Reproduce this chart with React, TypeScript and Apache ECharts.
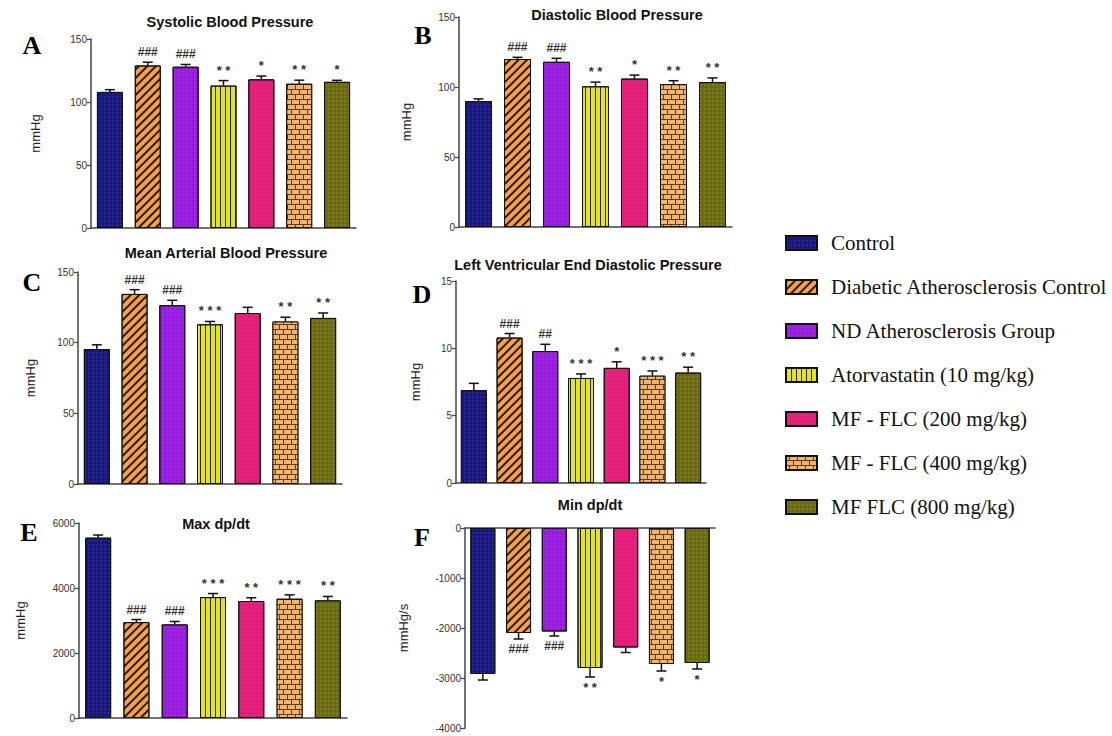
import React, { useEffect, useRef } from 'react';
import * as echarts from 'echarts';

const groups = [
  'Control',
  'Diabetic Atherosclerosis Control',
  'ND Atherosclerosis Group',
  'Atorvastatin (10 mg/kg)',
  'MF - FLC (200 mg/kg)',
  'MF - FLC (400 mg/kg)',
  'MF FLC (800 mg/kg)',
];

const sbpValues = [108, 129, 128, 113, 118, 114.5, 116];
const sbpErrors = [1.8, 2.6, 1.8, 4, 2.6, 2.8, 1.2];
const sbpMarks = ['', '###', '###', '* *', '*', '* *', '*'];

const dbpValues = [90, 120, 118, 100.5, 106, 102, 103.5];
const dbpErrors = [1.5, 1.2, 2.5, 3, 2.5, 2.5, 3];
const dbpMarks = ['', '###', '###', '* *', '*', '* *', '* *'];

const mapValues = [95.5, 134.5, 126.5, 113, 121, 115, 117.5];
const mapErrors = [3, 3, 3.5, 2, 4, 3, 3.5];
const mapMarks = ['', '###', '###', '* * *', '', '* *', '* *'];

const lvedpValues = [6.9, 10.8, 9.8, 7.8, 8.55, 7.97, 8.2];
const lvedpErrors = [0.5, 0.3, 0.5, 0.3, 0.45, 0.35, 0.4];
const lvedpMarks = ['', '###', '##', '* * *', '*', '* * *', '* *'];

const maxValues = [5550, 2950, 2880, 3720, 3600, 3670, 3620];
const maxErrors = [80, 80, 90, 110, 100, 120, 120];
const maxMarks = ['', '###', '###', '* * *', '* *', '* * *', '* *'];

const minValues = [-2920, -2100, -2070, -2800, -2390, -2720, -2700];
const minErrors = [120, 120, 90, 180, 100, 140, 120];
const minMarks = ['', '###', '###', '* *', '', '*', '*'];

const panels = [
  { letter: 'A', title: 'Systolic Blood Pressure', unit: 'mmHg', values: sbpValues, errors: sbpErrors, marks: sbpMarks, min: 0, max: 150, interval: 50 },
  { letter: 'B', title: 'Diastolic Blood Pressure', unit: 'mmHg', values: dbpValues, errors: dbpErrors, marks: dbpMarks, min: 0, max: 150, interval: 50 },
  { letter: 'C', title: 'Mean Arterial Blood Pressure', unit: 'mmHg', values: mapValues, errors: mapErrors, marks: mapMarks, min: 0, max: 150, interval: 50 },
  { letter: 'D', title: 'Left Ventricular End Diastolic Pressure', unit: 'mmHg', values: lvedpValues, errors: lvedpErrors, marks: lvedpMarks, min: 0, max: 15, interval: 5 },
  { letter: 'E', title: 'Max dp/dt', unit: 'mmHg', values: maxValues, errors: maxErrors, marks: maxMarks, min: 0, max: 6000, interval: 2000 },
  { letter: 'F', title: 'Min dp/dt', unit: 'mmHg/s', values: minValues, errors: minErrors, marks: minMarks, min: -4000, max: 0, interval: 1000 },
];

// layout (pixels)
const layouts = [
  { left: 91, top: 39, width: 265, height: 189, barWidth: 26, nameGap: 49, titleX: 230, titleY: 22, letterX: 32, letterY: 45 },
  { left: 459, top: 17, width: 273, height: 210, barWidth: 27, nameGap: 46, titleX: 617, titleY: 15, letterX: 423, letterY: 35 },
  { left: 78, top: 272, width: 264, height: 212, barWidth: 26, nameGap: 41, titleX: 226, titleY: 253, letterX: 32, letterY: 282 },
  { left: 456, top: 281, width: 250, height: 202, barWidth: 26, nameGap: 34, titleX: 588, titleY: 265, letterX: 422, letterY: 294 },
  { left: 79, top: 523, width: 268, height: 195, barWidth: 26, nameGap: 52, titleX: 216, titleY: 524, letterX: 29, letterY: 532 },
  { left: 465, top: 528, width: 250, height: 200, barWidth: 25, nameGap: 55, titleX: 590, titleY: 505, letterX: 422, letterY: 537 },
];

const sans = "'Liberation Sans', Arial, sans-serif";
const serif = "'Liberation Serif', 'Times New Roman', serif";

const dots = (c: string) => ({
  symbol: 'circle', symbolSize: 0.9, dashArrayX: [1.3, 1.2], dashArrayY: [1.3, 1.2], color: c,
});

const groupStyles = [
  { color: '#17177d', decal: dots('rgba(255,255,255,0.10)') },
  { color: '#f4a04c', decal: { symbol: 'rect', symbolSize: 1, symbolKeepAspect: false, dashArrayX: [10, 0], dashArrayY: [1.2, 3.6], rotation: -Math.PI / 4, color: '#2a1a0a' } },
  { color: '#9d22e6', decal: dots('rgba(60,0,90,0.25)') },
  { color: '#e4e41c', decal: { symbol: 'rect', symbolSize: 1, symbolKeepAspect: false, dashArrayX: [1, 3.2], dashArrayY: [10, 0], color: '#222' } },
  { color: '#e6217c', decal: dots('rgba(120,0,40,0.15)') },
  { color: '#5e3e22', decal: { symbol: 'rect', symbolSize: 1, symbolKeepAspect: false, dashArrayX: [[7, 1], [3, 1, 4, 0]], dashArrayY: [4, 1], color: '#f0b46e' } },
  { color: '#6b6912', decal: dots('rgba(230,230,120,0.22)') },
];

export default function App() {
  const ref = useRef<HTMLDivElement>(null);
  useEffect(() => {
    if (!ref.current) return;
    const chart = echarts.init(ref.current, undefined, { renderer: 'svg' });

    const grid: any[] = [];
    const xAxis: any[] = [];
    const yAxis: any[] = [];
    const series: any[] = [];
    const graphic: any[] = [];

    panels.forEach((p, i) => {
      const L = layouts[i];
      grid.push({ left: L.left, top: L.top, width: L.width, height: L.height, containLabel: false });
      xAxis.push({
        gridIndex: i, type: 'category', data: groups,
        axisLine: { show: true, onZero: true, lineStyle: { color: '#444', width: 1.5 } },
        axisTick: { show: false }, axisLabel: { show: false },
      });
      yAxis.push({
        gridIndex: i, type: 'value', min: p.min, max: p.max, interval: p.interval,
        name: p.unit, nameLocation: 'middle', nameGap: L.nameGap,
        nameTextStyle: { fontSize: 13, color: '#222', fontFamily: sans },
        axisLine: { show: true, lineStyle: { color: '#444', width: 1.5 } },
        axisTick: { show: true, length: 4, lineStyle: { color: '#444', width: 1.2 } },
        axisLabel: { fontSize: 10, color: '#333', margin: 4, fontFamily: sans, formatter: (v: number) => String(v) },
        splitLine: { show: false },
      });
      series.push({
        type: 'bar', xAxisIndex: i, yAxisIndex: i, barWidth: L.barWidth, z: 2,
        data: p.values.map((v, j) => ({
          value: v,
          itemStyle: { color: groupStyles[j].color, decal: groupStyles[j].decal, borderColor: '#111', borderWidth: 1 },
        })),
      });
      const marks = p.marks;
      series.push({
        type: 'custom', xAxisIndex: i, yAxisIndex: i, z: 5, clip: false,
        encode: { x: 0, y: 1 },
        data: p.values.map((v, j) => [j, v, p.errors[j]]),
        renderItem: (params: any, api: any) => {
          const ci = api.value(0);
          const v = api.value(1);
          const e = api.value(2);
          const dir = v < 0 ? -1 : 1;
          const p0 = api.coord([ci, v]);
          const p1 = api.coord([ci, v + dir * e]);
          const hw = 5;
          const label = marks[params.dataIndex] || '';
          const isHash = label.startsWith('#');
          return {
            type: 'group',
            children: [
              { type: 'line', shape: { x1: p0[0], y1: p0[1], x2: p1[0], y2: p1[1] }, style: { stroke: '#111', lineWidth: 1.5 } },
              { type: 'line', shape: { x1: p1[0] - hw, y1: p1[1], x2: p1[0] + hw, y2: p1[1] }, style: { stroke: '#111', lineWidth: 1.5 } },
              {
                type: 'text', x: p1[0], y: dir > 0 ? p1[1] - 4 : p1[1] + 4,
                style: {
                  text: label, fill: '#333',
                  font: isHash ? `bold 12px ${sans}` : `bold 13px ${sans}`,
                  align: 'center', verticalAlign: dir > 0 ? 'bottom' : 'top',
                },
              },
            ],
          };
        },
      });
      graphic.push({
        type: 'text', x: L.titleX, y: L.titleY,
        style: { text: p.title, fill: '#111', font: `bold 14.5px ${sans}`, align: 'center', verticalAlign: 'middle' },
      });
      graphic.push({
        type: 'text', x: L.letterX, y: L.letterY,
        style: { text: p.letter, fill: '#000', font: `bold 26px ${serif}`, align: 'center', verticalAlign: 'middle' },
      });
    });

    // hidden grid for legend entries
    grid.push({ left: 0, top: 0, width: 5, height: 5, show: false });
    xAxis.push({ gridIndex: 6, type: 'category', data: [''], show: false });
    yAxis.push({ gridIndex: 6, type: 'value', show: false });
    groups.forEach((g, j) => {
      series.push({
        type: 'bar', name: g, xAxisIndex: 6, yAxisIndex: 6, data: [],
        itemStyle: { color: groupStyles[j].color, decal: groupStyles[j].decal, borderColor: '#111', borderWidth: 1 },
      });
    });

    chart.setOption({
      animation: false,
      backgroundColor: '#fff',
      grid, xAxis, yAxis, series, graphic,
      legend: {
        orient: 'vertical', left: 785, top: 232, padding: 0, itemWidth: 31, itemHeight: 14, itemGap: 22,
        icon: 'rect', selectedMode: false, data: groups,
        textStyle: { fontFamily: serif, fontSize: 21, color: '#111', lineHeight: 22, padding: [0, 0, 0, 9] },
      },
    });
    return () => chart.dispose();
  }, []);
  return <div ref={ref} style={{ position: 'absolute', left: 0, top: 0, width: 1112, height: 736, background: '#fff' }} />;
}
